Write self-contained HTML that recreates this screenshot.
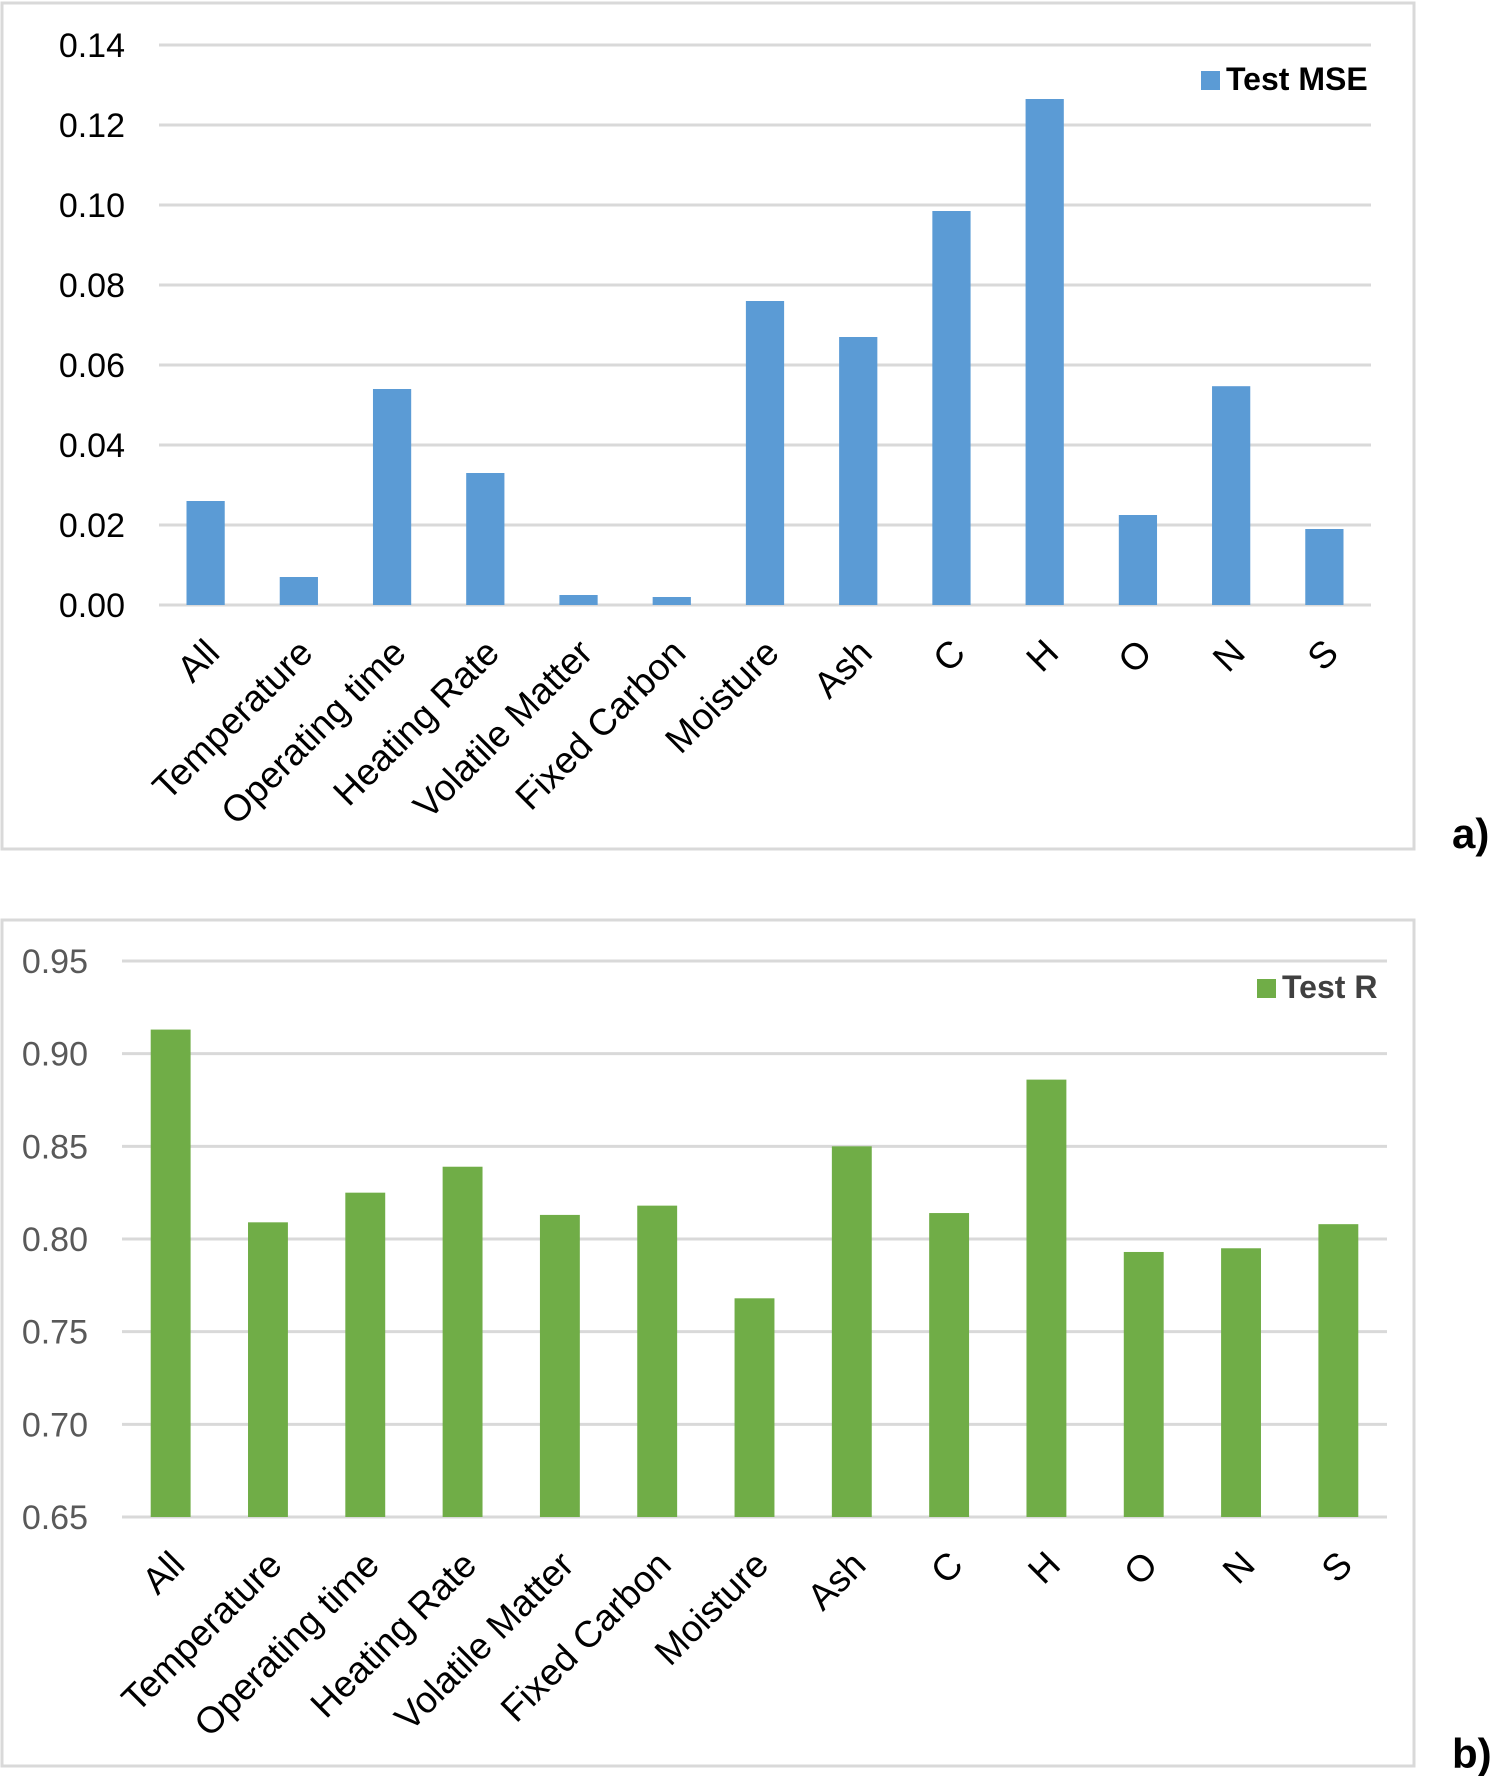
<!DOCTYPE html>
<html><head><meta charset="utf-8"><style>
html,body{margin:0;padding:0;background:#fff}
svg{display:block}
text{font-family:"Liberation Sans",sans-serif}
</style></head><body>
<svg id="svg" width="1500" height="1776" viewBox="0 0 1500 1776">
<rect x="2" y="3" width="1412" height="846" fill="#fff" stroke="#d9d9d9" stroke-width="3"/>
<rect x="2" y="920" width="1412" height="846" fill="#fff" stroke="#d9d9d9" stroke-width="3"/>
<g id="ga"></g>
<g id="gb"></g>
<text x="1452" y="848" font-size="42" font-weight="bold" fill="#000">a)</text>
<text x="1452" y="1768" font-size="42" font-weight="bold" fill="#000">b)</text>
</svg>
<script>
const categories = ["All","Temperature","Operating time","Heating Rate","Volatile Matter","Fixed Carbon","Moisture","Ash","C","H","O","N","S"];
const mseValues = [0.026,0.007,0.054,0.033,0.0025,0.002,0.076,0.067,0.0985,0.1265,0.0225,0.0547,0.019];
const rValues = [0.913,0.809,0.825,0.839,0.813,0.818,0.768,0.850,0.814,0.886,0.793,0.795,0.808];
const mseTicks = ["0.00","0.02","0.04","0.06","0.08","0.10","0.12","0.14"];
const rTicks = ["0.65","0.70","0.75","0.80","0.85","0.90","0.95"];
const NS = "http://www.w3.org/2000/svg";
function mk(tag, attrs, parent, txt){
  const e = document.createElementNS(NS, tag);
  for (const k in attrs) e.setAttribute(k, attrs[k]);
  if (txt !== undefined) e.textContent = txt;
  parent.appendChild(e);
  return e;
}
function draw(g, cfg){
  const {x0,x1,yTop,yBot,min,max,ticks,vals,color,tickColor,labelColor,legend,legX,legY} = cfg;
  const y = v => yBot - (v - min) / (max - min) * (yBot - yTop);
  const step = (x1 - x0) / categories.length;
  const cx = i => x0 + step * (i + 0.5);
  ticks.forEach(t => {
    const v = parseFloat(t);
    const l = mk("line", {x1:x0, x2:x1, y1:y(v), y2:y(v), stroke:"#d9d9d9", "stroke-width":3}, g);
    
    
    const tx = mk("text", {x:x0 - 34, y:y(v) + 12, "text-anchor":"end", "font-size":34, fill:tickColor}, g, t);
    
    
  });
  const bw = step * 0.41;
  vals.forEach((v, i) => {
    const r = mk("rect", {x:cx(i) - bw/2, y:y(v), width:bw, height:yBot - y(v), fill:color}, g);
    
    
    const ax = cx(i) + 16, ay = yBot + 50;
    const t = mk("text", {x:ax, y:ay, "text-anchor":"end", "font-size":37, fill:labelColor, transform:`rotate(-45 ${ax} ${ay})`}, g, categories[i]);
    
    
  });
  const sq = mk("rect", {x:legX, y:legY, width:19, height:19, fill:color}, g);
  
  
  const lt = mk("text", {x:legX + 25, y:legY + 19, "font-size":32, "font-weight":"bold", fill:tickColor === "#000" ? "#000" : "#404040"}, g, legend);
  
  
}
draw(document.getElementById("ga"), {x0:159, x1:1371, yTop:45, yBot:605, min:0, max:0.14, ticks:mseTicks, vals:mseValues, color:"#5b9bd5", tickColor:"#000", labelColor:"#000", legend:"Test MSE", legX:1201, legY:71});
draw(document.getElementById("gb"), {x0:122, x1:1387, yTop:961, yBot:1517, min:0.65, max:0.95, ticks:rTicks, vals:rValues, color:"#70ad47", tickColor:"#595959", labelColor:"#000", legend:"Test R", legX:1257, legY:979});
</script>
</body></html>
